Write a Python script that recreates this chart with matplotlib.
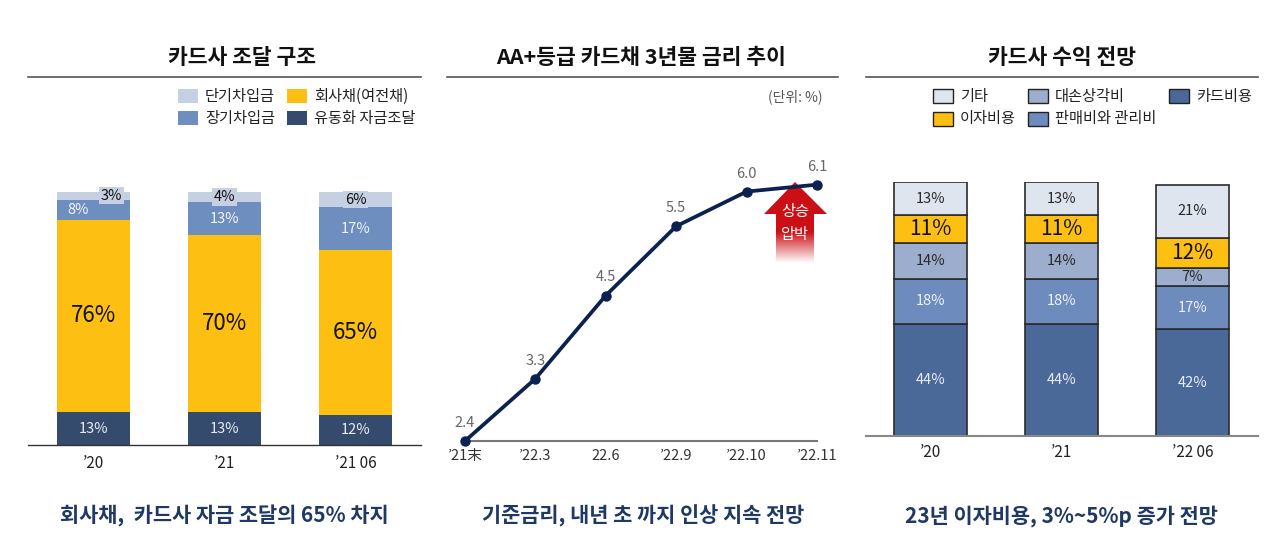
import numpy as np
import matplotlib
matplotlib.use('Agg')
import matplotlib.pyplot as plt
from matplotlib.patches import Rectangle, Polygon

plt.rcParams['font.family'] = ['Noto Sans CJK KR', 'DejaVu Sans']

# ---- data ----
# panel 1: card company funding structure
fund_years = ['’20', '’21', '’21 06']
fund_abs = [13, 13, 12]        # 유동화 자금조달
fund_bond = [76, 70, 65]       # 회사채(여전채)
fund_long = [8, 13, 17]        # 장기차입금
fund_short = [3, 4, 6]         # 단기차입금

# panel 2: AA+ card bond 3y yield
rate_dates = ['’21末', '’22.3', '22.6', '’22.9', '’22.10', '’22.11']
rate_vals = [2.4, 3.3, 4.5, 5.5, 6.0, 6.1]

# panel 3: card company cost structure
cost_years = ['’20', '’21', '’22 06']
cost_card = [44, 44, 42]       # 카드비용
cost_sga = [18, 18, 17]        # 판매비와 관리비
cost_loss = [14, 14, 7]        # 대손상각비
cost_int = [11, 11, 12]        # 이자비용
cost_etc = [13, 13, 21]        # 기타

W, H = 1280, 546
fig = plt.figure(figsize=(W / 100, H / 100), dpi=100)
fig.patch.set_facecolor('white')


def rect(x0, y0, x1, y1):
    # pixel box (top-left origin) -> figure fraction
    return [x0 / W, 1 - y1 / H, (x1 - x0) / W, (y1 - y0) / H]


def fx(x):
    return x / W


def fy(y):
    return 1 - y / H


def header(title, x0, x1, cx):
    fig.text(fx(cx), fy(57), title, ha='center', va='center',
             fontsize=15.5, fontweight='bold', color='#111111')
    fig.add_artist(plt.Line2D([fx(x0), fx(x1)], [fy(77), fy(77)],
                              color='#555555', lw=1.2))


def legend_item(x, y, color, label, edge='none'):
    fig.add_artist(Rectangle((fx(x), fy(y + 14)), 20 / W, 14 / H,
                             transform=fig.transFigure, fc=color, ec=edge, lw=1))
    fig.text(fx(x + 27), fy(y + 7), label, ha='left', va='center',
             fontsize=11, color='#222222')


def caption(text, cx):
    fig.text(fx(cx), fy(516), text, ha='center', va='center',
             fontsize=15, fontweight='bold', color='#1f3864')


# ================= panel 1 =================
c_short, c_long, c_bond, c_abs = '#c5d0e3', '#6e8ebf', '#fcbf12', '#354b6e'
header('카드사 조달 구조', 28, 421, 242)
legend_item(178, 89, c_short, '단기차입금')
legend_item(287, 89, c_bond, '회사채(여전채)')
legend_item(178, 111, c_long, '장기차입금')
legend_item(287, 111, c_abs, '유동화 자금조달')

ax1 = fig.add_axes(rect(28, 192, 421, 445))
x = np.arange(len(fund_years))
bw = 0.56
b0 = np.zeros(3)
ax1.bar(x, fund_abs, bw, bottom=b0, color=c_abs)
b1 = b0 + fund_abs
ax1.bar(x, fund_bond, bw, bottom=b1, color=c_bond)
b2 = b1 + fund_bond
ax1.bar(x, fund_long, bw, bottom=b2, color=c_long)
b3 = b2 + fund_long
ax1.bar(x, fund_short, bw, bottom=b3, color=c_short)

for i in range(3):
    ax1.text(x[i], b0[i] + fund_abs[i] / 2, f'{fund_abs[i]}%', ha='center',
             va='center', fontsize=10.5, color='#e8ebf2')
    ax1.text(x[i], b1[i] + fund_bond[i] / 2, f'{fund_bond[i]}%', ha='center',
             va='center', fontsize=16, color='#111111')
    lx = x[i] - 0.12 if i == 0 else x[i]
    ax1.text(lx, b2[i] + fund_long[i] / 2, f'{fund_long[i]}%', ha='center',
             va='center', fontsize=10.5, color='#f2f4f8')
    sx = x[i] + 0.14 if i == 0 else x[i]
    ax1.text(sx, b3[i] + fund_short[i] / 2, f'{fund_short[i]}%', ha='center',
             va='center', fontsize=10.5, color='#111111',
             bbox=dict(fc=c_short, ec='none', pad=1.2))

ax1.set_xlim(-0.5, 2.5)
ax1.set_ylim(0, 100)
ax1.set_xticks(x)
ax1.set_xticklabels(fund_years, fontsize=11, color='#222222')
ax1.tick_params(axis='x', length=0, pad=7)
ax1.set_yticks([])
for s in ['top', 'right', 'left']:
    ax1.spines[s].set_visible(False)
ax1.spines['bottom'].set_color('#333333')
ax1.spines['bottom'].set_linewidth(1.0)
ax1.patch.set_alpha(0)

caption('회사채,  카드사 자금 조달의 65% 차지', 224)

# ================= panel 2 =================
header('AA+등급 카드채 3년물 금리 추이', 447, 838, 641)
fig.text(fx(822), fy(97), '(단위: %)', ha='right', va='center',
         fontsize=10, color='#555555', style='italic')

# gradient up-arrow drawn first so the line sits on top
ax_arr = fig.add_axes(rect(760, 180, 830, 265))
ax_arr.set_xlim(760, 830)
ax_arr.set_ylim(265, 180)
ax_arr.axis('off')
ys = np.linspace(180, 265, 200)
alpha = np.clip((263 - ys) / (263 - 232), 0, 1)
grad = np.zeros((200, 2, 4))
grad[:, :, 0] = 0.80
grad[:, :, 1] = 0.06
grad[:, :, 2] = 0.08
grad[:, :, 3] = alpha[:, None]
im = ax_arr.imshow(grad, extent=[760, 830, 265, 180], aspect='auto',
                   interpolation='bilinear')
arrow = Polygon([(795, 182), (827, 214), (814, 214), (814, 263),
                 (776, 263), (776, 214), (764, 214)], closed=True,
                transform=ax_arr.transData, fc='none', ec='none')
ax_arr.add_patch(arrow)
im.set_clip_path(arrow)
ax_arr.text(795, 223, '상승\n압박', ha='center', va='center', fontsize=11,
            color='white', linespacing=1.4)

ax2 = fig.add_axes(rect(465, 150, 817, 441))
xi = np.arange(len(rate_vals))
ax2.plot(xi, rate_vals, color='#0b2150', lw=2.7, marker='o', ms=6.5,
         clip_on=False, zorder=3)
for i, v in enumerate(rate_vals):
    ax2.annotate(f'{v:.1f}', (xi[i], v), xytext=(0, 13),
                 textcoords='offset points', ha='center', va='center',
                 fontsize=10.5, color='#666666')
ax2.set_xlim(0, 5)
ax2.set_ylim(2.4, 6.6)
ax2.set_xticks(xi)
ax2.set_xticklabels(rate_dates, fontsize=10.5, color='#333333')
ax2.tick_params(axis='x', length=0, pad=6)
ax2.set_yticks([])
for s in ['top', 'right', 'left']:
    ax2.spines[s].set_visible(False)
ax2.spines['bottom'].set_color('#777777')
ax2.spines['bottom'].set_linewidth(1.5)
ax2.patch.set_alpha(0)

caption('기준금리, 내년 초 까지 인상 지속 전망', 643)

# ================= panel 3 =================
c_etc, c_loss, c_card, c_int, c_sga = '#dfe5ef', '#9cadcd', '#4a6898', '#fcbf12', '#6d8bbd'
header('카드사 수익 전망', 866, 1258, 1062)
legend_item(933, 89, c_etc, '기타', edge='#222222')
legend_item(1028, 89, c_loss, '대손상각비', edge='#222222')
legend_item(1169, 89, c_card, '카드비용', edge='#222222')
legend_item(933, 112, c_int, '이자비용', edge='#222222')
legend_item(1028, 112, c_sga, '판매비와 관리비', edge='#222222')

ax3 = fig.add_axes(rect(866, 182, 1258, 436))
x3 = np.arange(len(cost_years))
bw3 = 0.557
series = [(cost_card, c_card, '#e9edf5', 10.5),
          (cost_sga, c_sga, '#eef1f7', 10.5),
          (cost_loss, c_loss, '#2a2a2a', 10.5),
          (cost_int, c_int, '#111111', 15),
          (cost_etc, c_etc, '#2a2a2a', 10.5)]
bottom = np.zeros(3)
for vals, col, tcol, fs in series:
    ax3.bar(x3, vals, bw3, bottom=bottom, color=col, edgecolor='#2b2b2b', lw=1.2)
    for i in range(3):
        ax3.text(x3[i], bottom[i] + vals[i] / 2, f'{vals[i]}%', ha='center',
                 va='center', fontsize=fs, color=tcol)
    bottom = bottom + np.array(vals)

ax3.set_xlim(-0.49, 2.5)
ax3.set_ylim(0, 100)
ax3.set_xticks(x3)
ax3.set_xticklabels(cost_years, fontsize=11, color='#222222')
ax3.tick_params(axis='x', length=0, pad=6)
ax3.set_yticks([])
for s in ['top', 'right', 'left']:
    ax3.spines[s].set_visible(False)
ax3.spines['bottom'].set_color('#888888')
ax3.spines['bottom'].set_linewidth(1.5)
ax3.patch.set_alpha(0)

caption('23년 이자비용, 3%~5%p 증가 전망', 1061)

fig.savefig('out.png', dpi=100)
